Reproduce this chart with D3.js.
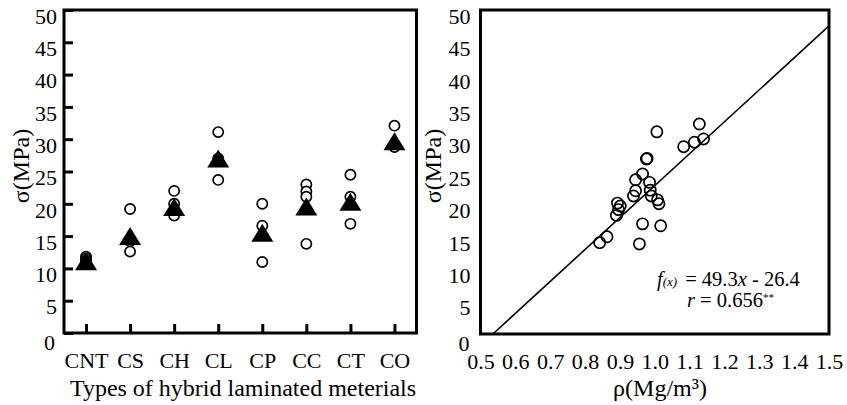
<!DOCTYPE html>
<html><head><meta charset="utf-8">
<script src="https://cdn.jsdelivr.net/npm/d3@7/dist/d3.min.js"></script>
<style>
html,body{margin:0;padding:0;background:#fff;}
svg{display:block;}
</style></head>
<body>
<svg id="chart" width="847" height="405"></svg>
<script>
// ---- Data ----
const categories = ["CNT","CS","CH","CL","CP","CC","CT","CO"];
// individual measurements (open circles) per category
const catSamples = [
  [11.8, 11.5, 11.2],
  [19.2, 14.2, 12.6],
  [22.0, 20.0, 18.2],
  [31.1, 27.0, 23.7],
  [20.0, 16.6, 11.0],
  [23.0, 21.9, 21.1, 13.8],
  [24.5, 21.1, 16.9],
  [32.1, 28.8]
];
// category means (filled triangles)
const catMeans = [11.1, 15.0, 19.5, 27.0, 15.5, 19.6, 20.3, 29.7];
const yTicks = [0,5,10,15,20,25,30,35,40,45,50];
// right panel: density vs strength
const density = [1.006,1.128,1.083,1.114,1.140,0.976,0.978,0.965,0.945,0.985,0.945,0.939,0.987,0.990,1.008,1.012,0.893,0.901,0.896,0.890,0.965,1.017,0.956,0.863,0.842];
const strength = [31.2,32.4,28.9,29.6,30.1,27.0,27.1,24.7,23.8,23.4,22.1,21.3,22.2,21.3,20.7,20.1,20.2,19.75,19.2,18.3,17.0,16.7,13.9,15.0,14.1];
const xTicks = [0.5,0.6,0.7,0.8,0.9,1.0,1.1,1.2,1.3,1.4,1.5];
const slope = 49.3, intercept = -26.4;

const FONT = "'Liberation Serif', 'Times New Roman', Tinos, serif";
const svg = d3.select("#chart").style("font-family", FONT);
const FS = 22;   // tick labels
const FT = 24;   // axis titles

// ---- Left panel ----
const L = {x0:64, x1:416.5, y0:333, y1:10};
const xL = d3.scalePoint().domain(categories).range([L.x0, L.x1]).padding(0.5);
const yL = d3.scaleLinear().domain([0,50]).range([L.y0, L.y1]);

const gLY = svg.append("g").attr("transform",`translate(${L.x0},0)`)
  .call(d3.axisLeft(yL).tickValues(yTicks).tickSize(-9).tickPadding(7));
const gLX = svg.append("g").attr("transform",`translate(0,${L.y0})`)
  .call(d3.axisBottom(xL).tickSize(-9).tickPadding(19));

// ---- Right panel ----
const R = {x0:480.5, x1:829, y0:334, y1:10};
const xR = d3.scaleLinear().domain([0.5,1.5]).range([R.x0, R.x1]);
const yR = d3.scaleLinear().domain([0,50]).range([R.y0, R.y1]);
const gRY = svg.append("g").attr("transform",`translate(${R.x0},0)`)
  .call(d3.axisLeft(yR).tickValues(yTicks).tickSize(0).tickPadding(10));
const gRX = svg.append("g").attr("transform",`translate(0,${R.y0})`)
  .call(d3.axisBottom(xR).tickValues(xTicks).tickFormat(d3.format(".1f")).tickSize(0).tickPadding(19));

[gLY,gLX,gRY,gRX].forEach(g=>{
  g.attr("font-family", null).style("font-family", FONT).attr("font-size", FS);
  g.select(".domain").remove();
  g.selectAll(".tick line").attr("stroke","#000").attr("stroke-width",3);
  g.selectAll("text").style("font-family", FONT).attr("font-size",FS).attr("fill","#000");
});
[gLY,gRY].forEach(g=>{
  g.selectAll(".tick text").attr("dy", d => d===0 ? "0.75em" : "0.6em");
});
gLY.selectAll(".tick").filter(d=>d===0).select("text").attr("x",-9);
gRY.selectAll(".tick").filter(d=>d===0).select("text").attr("x",-11);

// frames
svg.append("rect").attr("x",L.x0).attr("y",L.y1).attr("width",L.x1-L.x0).attr("height",L.y0-L.y1)
  .attr("fill","none").attr("stroke","#000").attr("stroke-width",3);
svg.append("rect").attr("x",R.x0).attr("y",R.y1).attr("width",R.x1-R.x0).attr("height",R.y0-R.y1)
  .attr("fill","none").attr("stroke","#000").attr("stroke-width",3);

// left markers
const circLeft = [];
categories.forEach((c,i)=>catSamples[i].forEach(v=>circLeft.push({c,v})));
svg.append("g").selectAll("circle").data(circLeft).join("circle")
  .attr("cx",d=>xL(d.c)).attr("cy",d=>yL(d.v)).attr("r",5.1)
  .attr("fill","#fff").attr("stroke","#000").attr("stroke-width",1.7);
const tri = (cx,cy)=>`M${cx},${cy-9}L${cx+11},${cy+9}L${cx-11},${cy+9}Z`;
svg.append("g").selectAll("path").data(categories).join("path")
  .attr("d",(c,i)=>tri(xL(c), yL(catMeans[i]))).attr("fill","#000");

// right: regression line
const xStart = -intercept/slope;
svg.append("line")
  .attr("x1",xR(xStart)).attr("y1",yR(slope*xStart+intercept))
  .attr("x2",xR(1.5)).attr("y2",yR(slope*1.5+intercept))
  .attr("stroke","#000").attr("stroke-width",1.6);
svg.append("g").selectAll("circle").data(density.map((d,i)=>[d,strength[i]])).join("circle")
  .attr("cx",d=>xR(d[0])).attr("cy",d=>yR(d[1])).attr("r",5.6)
  .attr("fill","none").attr("stroke","#000").attr("stroke-width",1.7);

// axis titles
const T = (sel,fs)=>sel.style("font-family",FONT).attr("font-size",fs).attr("fill","#000");
T(svg.append("text").attr("transform","translate(29,166) rotate(-90)")
  .attr("text-anchor","middle").text("σ(MPa)"), FT);
T(svg.append("text").attr("transform","translate(441,166) rotate(-90)")
  .attr("text-anchor","middle").text("σ(MPa)"), FT);
T(svg.append("text").attr("x",243).attr("y",396).attr("text-anchor","middle")
  .text("Types of hybrid laminated meterials"), FT);
T(svg.append("text").attr("x",660).attr("y",396).attr("text-anchor","middle")
  .text("ρ(Mg/m³)"), FT);

// annotation
const a1 = T(svg.append("text").attr("x",657).attr("y",286), 20.5);
a1.append("tspan").attr("font-style","italic").text("f");
a1.append("tspan").attr("font-style","italic").attr("font-size",13).text("(x)");
a1.append("tspan").attr("dx",8).text("= 49.3");
a1.append("tspan").attr("font-style","italic").text("x");
a1.append("tspan").text(" - 26.4");
const a2 = T(svg.append("text").attr("x",687).attr("y",307), 20.5);
a2.append("tspan").attr("font-style","italic").text("r");
a2.append("tspan").text(" = 0.656");
a2.append("tspan").attr("font-size",11).attr("dy",-6).text("**");
</script>
</body></html>
